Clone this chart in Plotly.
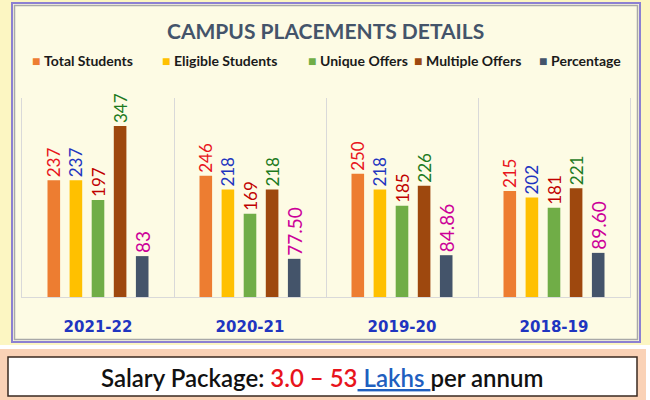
import plotly.graph_objects as go

years = ["2021-22", "2020-21", "2019-20", "2018-19"]
series_names = ["Total Students", "Eligible Students", "Unique Offers", "Multiple Offers", "Percentage"]
total_students = [237, 246, 250, 215]
eligible_students = [237, 218, 218, 202]
unique_offers = [197, 169, 185, 181]
multiple_offers = [347, 218, 226, 221]
percentage = [83, 77.50, 84.86, 89.60]
percentage_labels = ["83", "77.50", "84.86", "89.60"]

bar_colors = ["#ED7D31", "#FFC000", "#70AD47", "#9E480E", "#44546A"]
label_colors = ["#E8141C", "#1F35C0", "#C00000", "#1E7A1E", "#CC0099"]

W, H = 650, 400
L, R, T, B = 22, 20, 98, 103  # plot area: x 22..630, y 98..297
PW, PH = W - L - R, H - T - B


def px(x):
    return (x - L) / PW


def py(y):
    return (H - B - y) / PH


fig = go.Figure()
values = [total_students, eligible_students, unique_offers, multiple_offers, percentage]
for i, (name, vals) in enumerate(zip(series_names, values)):
    if name == "Percentage":
        texts = percentage_labels
        tsize = 19
    else:
        texts = [str(v) for v in vals]
        tsize = 17
    fig.add_trace(go.Bar(
        name=name, x=years, y=vals,
        marker=dict(color=bar_colors[i], line=dict(width=0)),
        text=texts, textposition="outside", textangle=-90,
        outsidetextfont=dict(family="Lato", size=tsize, color=label_colors[i]),
        constraintext="none", cliponaxis=False,
        hoverinfo="skip",
    ))

shapes = [
    # yellow glow behind top panel
    dict(type="rect", xref="paper", yref="paper", x0=px(0), x1=px(650), y0=py(0), y1=py(345),
         fillcolor="#FCF6C2", line=dict(width=0), layer="below"),
    # top panel
    dict(type="rect", xref="paper", yref="paper", x0=px(12), x1=px(640), y0=py(3), y1=py(342),
         fillcolor="#FDFBE4", line=dict(color="#8C80D2", width=2), layer="below"),
    dict(type="rect", xref="paper", yref="paper", x0=px(14.5), x1=px(637.5), y0=py(5.5), y1=py(339.5),
         fillcolor="rgba(0,0,0,0)", line=dict(color="#A8A8A8", width=1.5), layer="below"),
    # bottom orange glow
    dict(type="rect", xref="paper", yref="paper", x0=px(0), x1=px(646), y0=py(349), y1=py(400),
         fillcolor="#FAD2B6", line=dict(width=0), layer="below"),
    dict(type="rect", xref="paper", yref="paper", x0=px(8), x1=px(637), y0=py(357), y1=py(396),
         fillcolor="#FFFFFF", line=dict(color="#3A2A20", width=1.5), layer="below"),
]

annotations = [
    dict(text="<b>CAMPUS PLACEMENTS DETAILS</b>", xref="paper", yref="paper",
         x=px(325), y=py(30), xanchor="center", yanchor="middle", showarrow=False,
         font=dict(family="Lato", size=21, color="#44546A")),
    dict(text=("Salary Package: <span style='color:#E8141C'>3.0 – 53</span>"
               "<span style='color:#1F5FBF'><u> Lakhs </u></span>per annum"),
         xref="paper", yref="paper", x=px(322), y=py(377), xanchor="center", yanchor="middle",
         showarrow=False, font=dict(family="Lato", size=24, color="#111111", weight=600)),
]

legend_x = [30, 160, 306, 412, 537]
for name, color, lx in zip(series_names, bar_colors, legend_x):
    annotations.append(dict(
        text=f"<span style='color:{color}'>■</span> <b>{name}</b>",
        xref="paper", yref="paper", x=px(lx), y=py(60), xanchor="left", yanchor="middle",
        showarrow=False, font=dict(family="Lato", size=14, color="#1A1A1A")))

fig.update_layout(
    width=W, height=H,
    margin=dict(l=L, r=R, t=T, b=B, pad=0),
    paper_bgcolor="#FFFFFF", plot_bgcolor="rgba(0,0,0,0)",
    barmode="group", bargap=0.273, bargroupgap=0.43,
    showlegend=False,
    shapes=shapes, annotations=annotations,
)
fig.update_xaxes(
    type="category", tickson="boundaries", showgrid=True, gridcolor="#D9D9D9", gridwidth=1,
    showline=True, linecolor="#D9D9D9", linewidth=1, ticks="", ticklabelstandoff=16,
    tickfont=dict(family="DejaVu Sans", size=15, color="#1F35C0", weight="bold"),
    range=[-0.5, 3.5], fixedrange=True,
)
fig.update_yaxes(
    range=[0, 404], showgrid=False, zeroline=False, showticklabels=False, ticks="",
    showline=True, mirror=True, linecolor="#D9D9D9", linewidth=1, fixedrange=True,
)

fig.write_html("out.html", config={"displayModeBar": False})
